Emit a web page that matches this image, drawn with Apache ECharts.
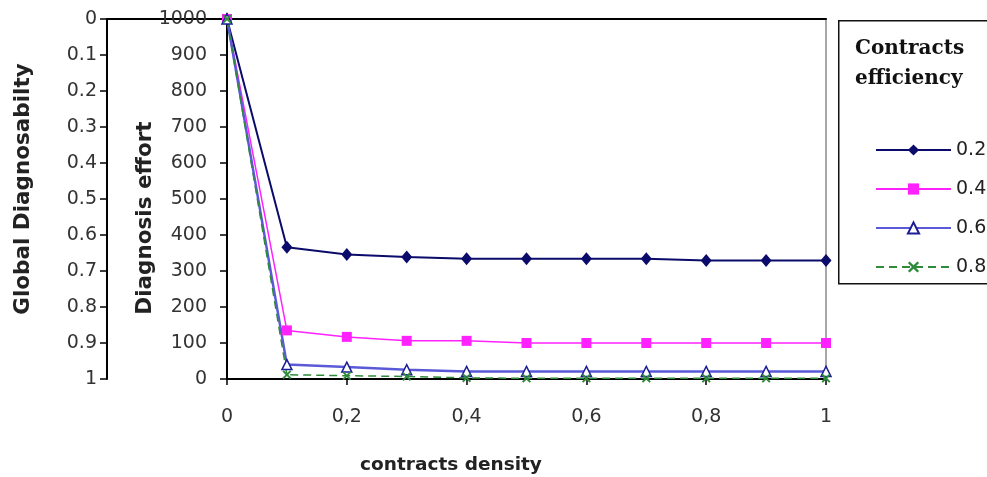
<!DOCTYPE html>
<html>
<head>
<meta charset="utf-8">
<script src="https://cdn.jsdelivr.net/npm/echarts@6/dist/echarts.min.js"></script>
<style>
html,body{margin:0;padding:0;background:#fff;}
#chart{width:987px;height:477px;}
</style>
</head>
<body>
<div id="chart"></div>
<script>
// ---- data ----
var density = [0, 0.1, 0.2, 0.3, 0.4, 0.5, 0.6, 0.7, 0.8, 0.9, 1];
var eff02 = [1000, 366, 346, 339, 334, 334, 334, 334, 329, 329, 329];
var eff04 = [1000, 135, 117, 106, 106, 100, 100, 100, 100, 100, 100];
var eff06 = [1000, 40, 33, 26, 21, 21, 21, 21, 21, 21, 21];
var eff08 = [1000, 12, 9, 7, 3, 2, 2, 2, 2, 2, 2];
var seriesNames = ['0.2', '0.4', '0.6', '0.8'];
var legendTitle = 'Contracts\nefficiency';
var xTitle = 'contracts density';
var yTitleMain = 'Diagnosis effort';
var yTitleSecond = 'Global Diagnosabilty';

function pairs(ys) { return density.map(function (x, i) { return [x, ys[i]]; }); }

var xPath = 'path://M0,1.5L1.5,0L5,3.5L8.5,0L10,1.5L6.5,5L10,8.5L8.5,10L5,6.5L1.5,10L0,8.5L3.5,5Z';
var tickFont = { fontFamily: 'DejaVu Sans', fontSize: 19, color: '#333' };

var chart = echarts.init(document.getElementById('chart'), null, { renderer: 'canvas' });
chart.setOption({
  backgroundColor: '#fff',
  animation: false,
  grid: [
    { left: 227, right: 161, top: 19, bottom: 98, show: true, borderColor: '#8a8a8a', borderWidth: 1.5, backgroundColor: 'transparent' },
    { left: 107, right: 161, top: 19, bottom: 98, show: false }
  ],
  xAxis: [
    {
      gridIndex: 0, type: 'value', min: 0, max: 1, interval: 0.2,
      axisLine: { show: true, lineStyle: { color: '#000', width: 2 } },
      axisTick: { show: true, length: 6, lineStyle: { color: '#000', width: 1.5 } },
      axisLabel: Object.assign({ margin: 29, formatter: function (v) { return (+v.toFixed(1)).toString().replace('.', ','); } }, tickFont),
      splitLine: { show: false }
    },
    {
      gridIndex: 1, type: 'value', min: 0, max: 1,
      axisLine: { show: true, lineStyle: { color: '#000', width: 2 } },
      axisTick: { show: false }, axisLabel: { show: false }, splitLine: { show: false }
    }
  ],
  yAxis: [
    {
      gridIndex: 0, type: 'value', min: 0, max: 1000, interval: 100,
      axisLine: { show: true, lineStyle: { color: '#000', width: 2 } },
      axisTick: { show: true, length: 7, lineStyle: { color: '#000', width: 1.5 } },
      axisLabel: Object.assign({ margin: 20, formatter: function (v) { return String(Math.round(v)); } }, tickFont),
      splitLine: { show: false }
    },
    {
      gridIndex: 1, type: 'value', min: 0, max: 1, interval: 0.1, inverse: true,
      axisLine: { show: true, lineStyle: { color: '#000', width: 2 } },
      axisTick: { show: true, length: 7, lineStyle: { color: '#000', width: 1.5 } },
      axisLabel: Object.assign({ margin: 10, formatter: function (v) { return (+v.toFixed(1)).toString(); } }, tickFont),
      splitLine: { show: false }
    }
  ],
  legend: {
    orient: 'vertical', left: 870, top: 135,
    itemWidth: 75, itemHeight: 14, itemGap: 19,
    textStyle: { fontFamily: 'DejaVu Sans', fontSize: 19, color: '#222', lineHeight: 20 },
    data: seriesNames
  },
  graphic: [
    { type: 'rect', left: 838, top: 20, z: -1, shape: { width: 200, height: 263 }, style: { fill: '#fff', stroke: '#111', lineWidth: 1.5 } },
    { type: 'text', left: 855, top: 34, style: { text: legendTitle, font: 'bold 20px "DejaVu Serif"', lineHeight: 30, fill: '#111' } },
    { type: 'text', x: 451, y: 465, style: { text: xTitle, font: 'bold 18.5px "DejaVu Sans"', align: 'center', verticalAlign: 'middle', fill: '#222' } },
    { type: 'text', x: 145, y: 218, rotation: Math.PI / 2, style: { text: yTitleMain, font: 'bold 21.5px "DejaVu Sans"', align: 'center', verticalAlign: 'middle', fill: '#222' } },
    { type: 'text', x: 23, y: 189, rotation: Math.PI / 2, style: { text: yTitleSecond, font: 'bold 21.5px "DejaVu Sans"', align: 'center', verticalAlign: 'middle', fill: '#222' } }
  ],
  series: [
    {
      name: seriesNames[0], type: 'line', xAxisIndex: 0, yAxisIndex: 0, data: pairs(eff02),
      symbol: 'diamond', symbolSize: [11, 13],
      lineStyle: { color: '#0b0b6b', width: 2 },
      itemStyle: { color: '#0b0b6b' }
    },
    {
      name: seriesNames[1], type: 'line', xAxisIndex: 0, yAxisIndex: 0, data: pairs(eff04),
      symbol: 'rect', symbolSize: 10,
      lineStyle: { color: '#ff22ff', width: 1.5 },
      itemStyle: { color: '#ff22ff' }
    },
    {
      name: seriesNames[2], type: 'line', xAxisIndex: 0, yAxisIndex: 0, data: pairs(eff06),
      symbol: 'triangle', symbolSize: 10,
      lineStyle: { color: '#5a5ad8', width: 2.5 },
      itemStyle: { color: '#fff', borderColor: '#1d1d96', borderWidth: 1.5 }
    },
    {
      name: seriesNames[3], type: 'line', xAxisIndex: 0, yAxisIndex: 0, data: pairs(eff08),
      symbol: xPath, symbolSize: 9,
      lineStyle: { color: '#2e8b3a', width: 1.5, type: [8, 5] },
      itemStyle: { color: '#2e8b3a' }
    }
  ]
});
</script>
</body>
</html>
